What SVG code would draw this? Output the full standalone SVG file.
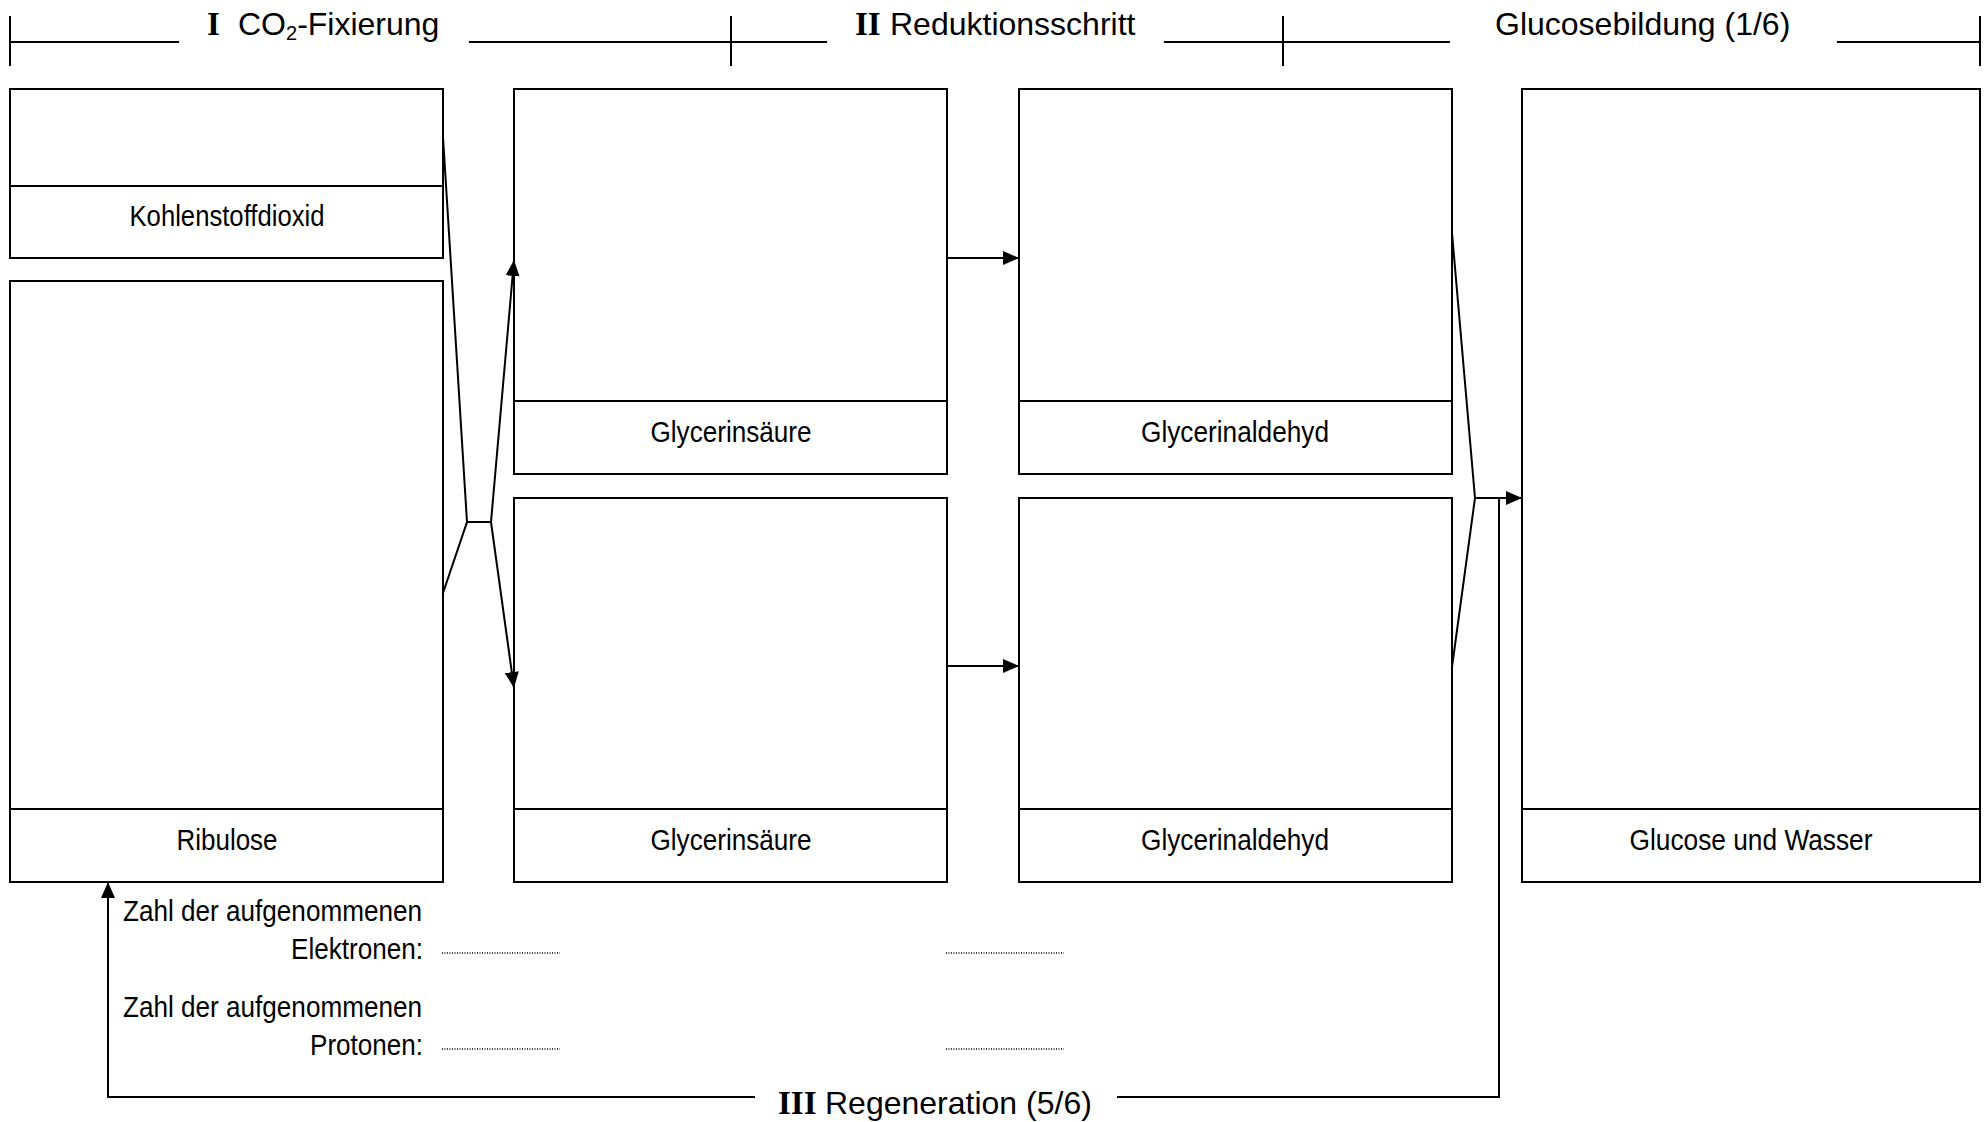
<svg xmlns="http://www.w3.org/2000/svg" width="1986" height="1122" viewBox="0 0 1986 1122">
<style>
.box{fill:#fff;stroke:#000;stroke-width:2}
.ln{fill:none;stroke:#000;stroke-width:2}
.dot{fill:none;stroke:#000;stroke-width:1.3;stroke-dasharray:1 1.5}
.lab{font-family:"Liberation Sans",Arial,sans-serif;font-size:30px;fill:#000}
.hd{font-family:"Liberation Sans",Arial,sans-serif;font-size:32px;fill:#000}
.rn{font-family:"Liberation Serif","Times New Roman",serif;font-size:33px;font-weight:bold;fill:#000}
</style>
<defs>
<marker id="arr" viewBox="0 0 16 14" refX="16" refY="7" markerWidth="16" markerHeight="14" markerUnits="userSpaceOnUse" orient="auto">
<path d="M0,0 L16,7 L0,14 z" fill="#000"/>
</marker>
</defs>

<g id="header">
<path class="ln" d="M10,42 H179 M469,42 H827 M1164,42 H1450 M1837,42 H1980 M10,16 V66 M731,16 V66 M1283,16 V66 M1980,16 V66"/>
<text class="rn" x="207" y="35">I</text>
<text class="hd" x="238" y="35">CO<tspan font-size="20" dy="5">2</tspan><tspan dy="-5">-Fixierung</tspan></text>
<text class="rn" x="855" y="35">II</text>
<text class="hd" x="890" y="35">Reduktionsschritt</text>
<text class="hd" x="1495" y="35">Glucosebildung (1/6)</text>
</g>

<g id="co2">
<rect class="box" x="10" y="89" width="433" height="169"/>
<line class="ln" x1="10" y1="186" x2="443" y2="186"/>
<text class="lab" x="227" y="226" text-anchor="middle" textLength="195" lengthAdjust="spacingAndGlyphs">Kohlenstoffdioxid</text>
</g>

<g id="ribulose">
<rect class="box" x="10" y="281" width="433" height="601"/>
<line class="ln" x1="10" y1="809" x2="443" y2="809"/>
<text class="lab" x="227" y="850" text-anchor="middle" textLength="101" lengthAdjust="spacingAndGlyphs">Ribulose</text>
</g>

<g id="gs1">
<rect class="box" x="514" y="89" width="433" height="385"/>
<line class="ln" x1="514" y1="401" x2="947" y2="401"/>
<text class="lab" x="731" y="442" text-anchor="middle" textLength="161" lengthAdjust="spacingAndGlyphs">Glycerinsäure</text>
</g>

<g id="gs2">
<rect class="box" x="514" y="498" width="433" height="384"/>
<line class="ln" x1="514" y1="809" x2="947" y2="809"/>
<text class="lab" x="731" y="850" text-anchor="middle" textLength="161" lengthAdjust="spacingAndGlyphs">Glycerinsäure</text>
</g>

<g id="ga1">
<rect class="box" x="1019" y="89" width="433" height="385"/>
<line class="ln" x1="1019" y1="401" x2="1452" y2="401"/>
<text class="lab" x="1235" y="442" text-anchor="middle" textLength="188" lengthAdjust="spacingAndGlyphs">Glycerinaldehyd</text>
</g>

<g id="ga2">
<rect class="box" x="1019" y="498" width="433" height="384"/>
<line class="ln" x1="1019" y1="809" x2="1452" y2="809"/>
<text class="lab" x="1235" y="850" text-anchor="middle" textLength="188" lengthAdjust="spacingAndGlyphs">Glycerinaldehyd</text>
</g>

<g id="glucose">
<rect class="box" x="1522" y="89" width="458" height="793"/>
<line class="ln" x1="1522" y1="809" x2="1980" y2="809"/>
<text class="lab" x="1751" y="850" text-anchor="middle" textLength="243" lengthAdjust="spacingAndGlyphs">Glucose und Wasser</text>
</g>

<g id="connectors">
<path class="ln" d="M443,137 L467,522 L443,593 M467,522 H491"/>
<path class="ln" d="M491,522 L514,260" marker-end="url(#arr)"/>
<path class="ln" d="M491,522 L514,688" marker-end="url(#arr)"/>
<path class="ln" d="M947,258 H1019" marker-end="url(#arr)"/>
<path class="ln" d="M947,666 H1019" marker-end="url(#arr)"/>
<path class="ln" d="M1452,233 L1475,498 L1452,667"/>
<path class="ln" d="M1475,498 H1522" marker-end="url(#arr)"/>
<path class="ln" d="M1499,498 V1097 H1117"/>
<path class="ln" d="M755,1097 H108 V882" marker-end="url(#arr)"/>
</g>

<g id="questions">
<text class="lab" x="123" y="921" textLength="299" lengthAdjust="spacingAndGlyphs">Zahl der aufgenommenen</text>
<text class="lab" x="423" y="959" text-anchor="end" textLength="132" lengthAdjust="spacingAndGlyphs">Elektronen:</text>
<text class="lab" x="123" y="1017" textLength="299" lengthAdjust="spacingAndGlyphs">Zahl der aufgenommenen</text>
<text class="lab" x="423" y="1055" text-anchor="end" textLength="113" lengthAdjust="spacingAndGlyphs">Protonen:</text>
<path class="dot" d="M442,953 H560 M946,953 H1064 M442,1049 H560 M946,1049 H1064"/>
</g>

<g id="regeneration">
<text class="rn" x="778" y="1114">III</text>
<text class="hd" x="825" y="1114">Regeneration (5/6)</text>
</g>
</svg>
